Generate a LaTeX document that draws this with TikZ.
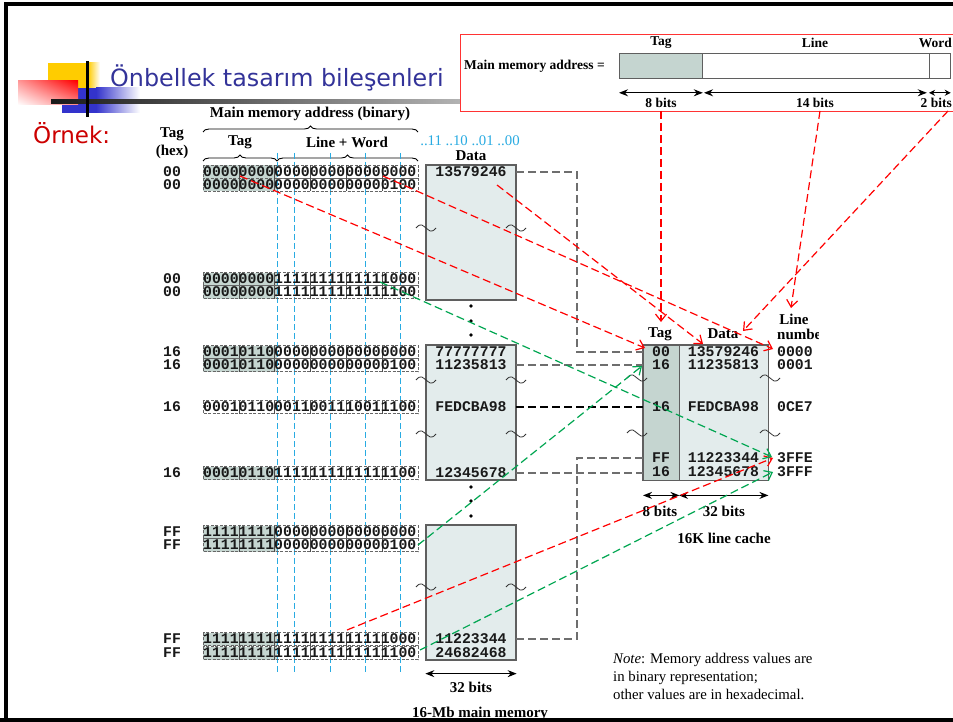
\documentclass[tikz,border=0pt]{standalone}
\usepackage{fontspec}
\setmainfont{Liberation Serif}
\newfontfamily\titlefont{DejaVu Sans}
\newfontfamily\codefont{Liberation Mono}
\usetikzlibrary{arrows.meta,decorations.pathreplacing,shadings}

\definecolor{titleblue}{RGB}{51,51,153}
\definecolor{exred}{RGB}{204,0,0}
\definecolor{logoyellow}{RGB}{255,204,0}
\definecolor{logoblue}{RGB}{51,51,204}
\definecolor{tagfill}{RGB}{197,213,208}
\definecolor{datafill}{RGB}{227,236,236}
\definecolor{skyline}{RGB}{41,171,226}
\definecolor{boxgray}{RGB}{95,95,95}
\definecolor{linkgray}{RGB}{110,110,110}
\definecolor{hotred}{RGB}{255,0,0}
\definecolor{hotgreen}{RGB}{0,166,81}

\tikzset{
  lbl/.style={font=\fontsize{15}{17}\selectfont\bfseries, inner sep=0pt},
  smalllbl/.style={font=\fontsize{13.5}{15}\selectfont\bfseries, inner sep=0pt},
  notetxt/.style={font=\fontsize{14.8}{18}\selectfont, inner sep=0pt, align=left},
  code/.style={font=\codefont\bfseries\fontsize{14.8}{16}\selectfont, inner sep=0pt, text=black!90},
  membox/.style={draw=boxgray, fill=datafill, line width=1.3pt, minimum width=90pt, minimum height=135pt, inner sep=0pt},
  dimarrow/.style={line width=1.1pt, {Stealth[length=9pt,width=7pt]}-{Stealth[length=9pt,width=7pt]}},
  redlink/.style={hotred, line width=1.2pt, dash pattern=on 8pt off 4pt, -{Straight Barb[length=7pt,width=11pt]}},
  greenlink/.style={hotgreen, line width=1.2pt, dash pattern=on 8pt off 4pt, -{Straight Barb[length=7pt,width=11pt]}},
  graylink/.style={linkgray, line width=1.2pt, dash pattern=on 8pt off 4pt},
  bitline/.style={skyline, line width=1pt, dash pattern=on 6pt off 3pt},
  bitframe/.style={black!60, line width=0.6pt, dash pattern=on 3pt off 1.5pt},
  squig/.pic={\draw[black!80, line width=0.8pt] (-10,0) .. controls (-5,-6) and (-3,-2) .. (0,0) .. controls (3,2) and (5,6) .. (10,0);},
  brc/.style={decorate, decoration={brace, amplitude=6pt}, line width=0.9pt},
}

\begin{document}
\begin{tikzpicture}[x=1pt,y=-1pt]
\useasboundingbox (0,0) rectangle (953,722);
\fill[white] (0,0) rectangle (953,722);

% ---------- slide logo and title ----------
\fill[logoyellow] (48,63) rectangle (88,100);
\shade[left color=logoyellow, right color=white] (88,63) rectangle (100,100);
\fill[logoblue] (62,88) rectangle (96,113);
\shade[left color=logoblue, right color=white] (96,88) rectangle (140,113);
\shade[upper right=red, upper left=red!40, lower right=red!45, lower left=white] (18,81) rectangle (78,105);
\shade[left color=black!90, right color=black!30] (51,99.5) rectangle (460,103.5);
\draw[line width=3pt] (87,61) -- (87,117);
\node[anchor=base west, inner sep=0pt, text=titleblue, font=\titlefont\fontsize{23.8}{28}\selectfont] (title) at (110,87) {Önbellek tasarım bileşenleri};
\node[anchor=base west, inner sep=0pt, text=exred, font=\titlefont\fontsize{23}{28}\selectfont] (example) at (33,144) {Örnek:};

% ---------- address format box ----------
\draw[hotred!80, line width=0.8pt] (460,34) rectangle (965,111);
\node[smalllbl, anchor=west] (addrlbl) at (464,66) {Main memory address =};
\node[draw=boxgray, fill=tagfill, line width=0.8pt, minimum width=83pt, minimum height=25pt, inner sep=0pt, anchor=north west] (ftag) at (619,53) {};
\node[draw=boxgray, fill=white, line width=0.8pt, minimum width=227pt, minimum height=25pt, inner sep=0pt, anchor=north west] (fline) at (702,53) {};
\node[draw=boxgray, fill=white, line width=0.8pt, minimum width=21pt, minimum height=25pt, inner sep=0pt, anchor=north west] (fword) at (929,53) {};
\node[smalllbl] (ftaglbl) at (661,43) {Tag};
\node[smalllbl] (flinelbl) at (815,43) {Line};
\node[smalllbl, anchor=east] (fwordlbl) at (952,43) {Word};
\draw[dimarrow] ([yshift=-14pt]ftag.south west) -- ([yshift=-14pt]ftag.south east);
\draw[dimarrow] ([xshift=2pt,yshift=-14pt]fline.south west) -- ([xshift=-3pt,yshift=-14pt]fline.south east);
\draw[line width=1.1pt, {Stealth[length=6pt,width=6pt]}-{Stealth[length=6pt,width=6pt]}] ([yshift=-14pt]fword.south west) -- ([yshift=-14pt]fword.south east);
\node[smalllbl] (bits8) at (661,103) {8 bits};
\node[smalllbl] (bits14) at (815,103) {14 bits};
\node[smalllbl, anchor=east] (bits2) at (952,103) {2 bits};

% ---------- main memory headings ----------
\node[lbl] (mmhead) at (310,114) {Main memory address (binary)};
\draw[brc] (203,132) -- (418,132);
\node[lbl] (taghead) at (240,142) {Tag};
\node[lbl] (lwhead) at (347,142) {Line + Word};
\draw[brc] (203,161) -- (277,161);
\draw[brc] (277,161) -- (418,161);
\node[lbl] (hexhead1) at (172,134) {Tag};
\node[lbl] (hexhead2) at (172,152) {(hex)};
\node[inner sep=0pt, text=skyline, font=\fontsize{14.8}{17}\selectfont] (wordsel) at (470,141) {..11 ..10 ..01 ..00};
\node[lbl] (datahead) at (471,156) {Data};

% word-offset guide lines
\foreach \x in {277,294,330,365,400}
  \draw[bitline] (\x,153) -- (\x,672);

% ---------- main memory blocks ----------
\node[membox] (memA) at (471,232.5) {};
\node[membox] (memB) at (471,412.5) {};
\node[membox] (memC) at (471,592.5) {};
\foreach \y in {306,321,335,487,501,516}
  \fill (471,\y) circle (1.8);
\foreach \y in {228,380,434,587} {
  \pic at (426,\y) {squig};
  \pic at (516,\y) {squig};
}

% address rows
\foreach \y/\h/\b/\s [count=\i] in {
  172/00/000000000000000000000000/1,
  185/00/000000000000000000000100/1,
  279/00/000000001111111111111000/1,
  292/00/000000001111111111111100/1,
  352/16/000101100000000000000000/1,
  365/16/000101100000000000000100/1,
  407/16/000101100011001110011100/0,
  473/16/000101101111111111111100/1,
  532/FF/111111110000000000000000/1,
  545/FF/111111110000000000000100/1,
  639/FF/111111111111111111111000/1,
  653/FF/111111111111111111111100/1} {
  \ifnum\s=1 \fill[tagfill] (203,\y-6.5) rectangle (277,\y+6.5); \fi
  \draw[bitframe] (203,\y-6.5) rectangle (418,\y+6.5);
  \foreach \k in {1,...,5}
    \draw[black!70, line width=0.6pt] (203+\k*35.84,\y-6.5) -- ++(0,13);
  \node[code] (hex\i) at (172,\y) {\h};
  \node[code, anchor=west] (bits\i) at (203,\y) {\b};
}

% memory words
\node[code] (wA1) at (471,172) {13579246};
\node[code] (wB1) at (471,352) {77777777};
\node[code] (wB2) at (471,365) {11235813};
\node[code] (wB3) at (471,407) {FEDCBA98};
\node[code] (wB4) at (471,473) {12345678};
\node[code] (wC1) at (471,639) {11223344};
\node[code] (wC2) at (471,653) {24682468};

\draw[dimarrow] ([yshift=-13pt]memC.south west) -- ([yshift=-13pt]memC.south east);
\node[lbl] (mem32) at (471,687) {32 bits};
\node[lbl] (memcap) at (480,714) {16-Mb main memory};

% ---------- cache ----------
\node[fill=tagfill, minimum width=36pt, minimum height=135pt, inner sep=0pt, anchor=north west] (ctag) at (643,345) {};
\node[fill=datafill, minimum width=89pt, minimum height=135pt, inner sep=0pt, anchor=north west] (cdata) at (679,345) {};
\draw[boxgray, line width=1.3pt] (ctag.north west) rectangle (cdata.south east);
\draw[boxgray, line width=1pt] (ctag.north east) -- (ctag.south east);
\foreach \y in {378,433} {
  \pic at (637,\y) {squig};
  \pic at (770,\y) {squig};
}
\node[lbl] (ctaghead) at (660,334) {Tag};
\node[lbl] (cdatahead) at (723,334) {Data};
\node[lbl] (clinehead) at (794,319) {Line};
\begin{scope}
  \clip (760,322) rectangle (818,345);
  \node[lbl, anchor=west] (cnumhead) at (777,334) {number};
\end{scope}
\foreach \y/\t/\d/\n [count=\i] in {352/00/13579246/0000, 365/16/11235813/0001, 407/16/FEDCBA98/0CE7, 458/FF/11223344/3FFE, 472/16/12345678/3FFF} {
  \node[code] (ct\i) at (661,\y) {\t};
  \node[code] (cd\i) at (723.5,\y) {\d};
  \node[code, anchor=west] (cl\i) at (777,\y) {\n};
}
\draw[dimarrow] ([yshift=-15pt]ctag.south west) -- ([yshift=-15pt]ctag.south east);
\draw[dimarrow] ([yshift=-15pt]cdata.south west) -- ([yshift=-15pt]cdata.south east);
\node[lbl] (c8) at (660,511) {8 bits};
\node[lbl] (c32) at (724,511) {32 bits};
\node[lbl] (ccap) at (724,538) {16K line cache};

\node[notetxt, anchor=north west] (note) at (613,653) {\textit{Note}: Memory address values are\\in binary representation;\\other values are in hexadecimal.};

% ---------- block to line placement ----------
\coordinate (pA1) at (516,172);
\coordinate (pB2) at (516,365);
\coordinate (pB3) at (516,407);
\coordinate (pB4) at (516,473);
\coordinate (pC1) at (516,639);
\coordinate (qL1) at (643,352);
\coordinate (qL2) at (643,365);
\coordinate (qL3) at (643,407);
\coordinate (qL4) at (643,458);
\coordinate (qL5) at (643,473);
\draw[graylink] (pA1) -- ++(61,0) |- (qL1);
\draw[graylink] (pB2) -- (qL2);
\draw[black, line width=1.2pt, dash pattern=on 8pt off 4pt] (pB3) -- (qL3);
\draw[graylink] (pB4) -- (qL5);
\draw[graylink] (pC1) -- ++(61,0) |- (qL4);

% ---------- address field routing ----------
\coordinate (s8) at (661,111);
\coordinate (s14) at (820,111);
\coordinate (s2) at (948,111);
\coordinate (sTag) at (240,176);
\coordinate (sLine) at (383,176);
\coordinate (sData) at (497,185);
\coordinate (sFF) at (347,630);
\coordinate (tTag) at (645,348);
\coordinate (tLine) at (773,349);
\coordinate (tData) at (703,344);
\coordinate (tTagHead) at (661,322);
\coordinate (tNum) at (791,308);
\coordinate (tDataHead) at (743,331);
\coordinate (tFE) at (773,458);
\draw[redlink] (s8) -- (tTagHead);
\draw[redlink] (s14) -- (tNum);
\draw[redlink] (s2) -- (tDataHead);
\draw[redlink] (sTag) -- (tTag);
\draw[redlink] (sLine) -- (tLine);
\draw[redlink] (sData) -- (tData);
\draw[redlink] (sFF) -- (tFE);

\coordinate (g1s) at (380,282);
\coordinate (g1t) at (772,457);
\coordinate (g2s) at (418,545);
\coordinate (g2t) at (642,366);
\coordinate (g3s) at (420,650);
\coordinate (g3t) at (773,472);
\draw[greenlink] (g1s) -- (g1t);
\draw[greenlink] (g2s) -- (g2t);
\draw[greenlink] (g3s) -- (g3t);

% ---------- slide frame ----------
\draw[line width=4pt] (6,722) -- (6,4.5) -- (953,4.5);
\draw[line width=4pt] (0,720) -- (953,720);
\end{tikzpicture}
\end{document}
